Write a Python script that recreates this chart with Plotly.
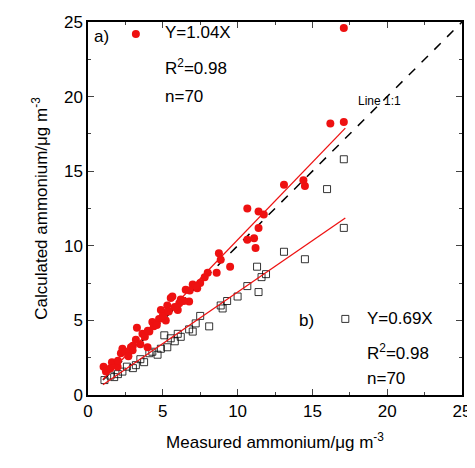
import plotly.graph_objects as go

red_x = [1.04,1.2,1.6,1.98,2.2,2.3,2.87,2.98,3.2,3.27,3.64,3.98,4.1,4.3,4.4,4.75,4.87,5.1,5.2,5.3,5.53,5.64,6.0,6.1,6.2,6.53,6.76,7.0,7.3,7.5,8.0,8.6,8.75,8.87,9.5,10.65,10.65,11.1,11.2,11.4,11.4,11.75,13.1,14.4,14.5,16.2,17.1,17.1,
         1.5,2.5,2.7,3.5,3.8,4.6,5.0,5.8,6.4,7.2,7.8,2.0,3.0,4.0,5.4,6.8]
red_y = [1.9,1.57,2.2,1.9,2.8,3.1,3.2,3.0,3.7,4.5,4.1,3.2,4.25,4.9,4.6,5.1,5.7,5.5,5.0,6.0,6.5,6.6,5.7,6.15,6.4,7.05,6.26,7.4,7.15,7.5,8.2,8.2,9.5,9.06,8.6,12.5,10.4,10.5,9.85,11.2,12.3,12.1,14.1,14.4,14.0,18.2,18.3,24.6,
         1.8,2.9,2.6,3.4,3.9,4.7,5.3,5.9,6.3,7.3,7.9,2.3,3.3,4.3,5.6,7.0]
blk_x = [1.1,1.75,2.3,2.6,3.2,3.75,4.1,4.65,4.87,5.3,5.53,5.1,6.2,6.76,7.0,7.5,8.1,8.87,9.3,10.65,11.4,11.3,11.9,13.1,14.5,15.98,17.1,17.1,
         1.5,2.0,3.0,3.5,4.3,5.8,6.0,7.2,9.0,10.0,11.6]
blk_y = [1.0,1.2,1.57,1.9,2.0,2.2,2.8,2.7,3.1,3.2,3.8,4.0,3.9,4.4,4.25,5.3,4.6,6.0,6.3,7.3,6.9,8.6,8.1,9.6,9.1,13.8,15.8,11.2,
         1.3,1.4,1.8,2.4,2.9,3.6,4.1,4.8,5.8,6.6,7.9]
fit_x = [1.0, 17.2]
slope_a, slope_b = 1.04, 0.69

fig = go.Figure()
fig.add_trace(go.Scatter(x=[1, 25], y=[1, 25], mode="lines", line=dict(color="black", dash="dash", width=1.5)))
fig.add_trace(go.Scatter(x=blk_x, y=blk_y, mode="markers",
    marker=dict(symbol="square-open", size=7, color="black", line=dict(width=0.8))))
fig.add_trace(go.Scatter(x=red_x, y=red_y, mode="markers",
    marker=dict(symbol="circle", size=8, color="#ee1111")))
fig.add_trace(go.Scatter(x=fit_x, y=[v*slope_a for v in fit_x], mode="lines", line=dict(color="#ee1111", width=1.3)))
fig.add_trace(go.Scatter(x=fit_x, y=[v*slope_b for v in fit_x], mode="lines", line=dict(color="#ee1111", width=1.3)))
# legend symbols
fig.add_trace(go.Scatter(x=[3.2], y=[24.2], mode="markers", marker=dict(symbol="circle", size=8, color="#ee1111")))
fig.add_trace(go.Scatter(x=[17.2], y=[5.1], mode="markers",
    marker=dict(symbol="square-open", size=7, color="black", line=dict(width=0.8))))

ax = dict(range=[0, 25], dtick=5, ticks="inside", ticklen=6, showgrid=False, zeroline=False,
          showline=True, linecolor="black", linewidth=1.5, mirror="ticks", automargin=False,
          minor=dict(ticks="inside", ticklen=3, dtick=2.5),
          tickfont=dict(size=17, color="black"))
fig.update_layout(
    width=475, height=468, showlegend=False, plot_bgcolor="white", paper_bgcolor="white",
    margin=dict(l=80, r=21, t=14, b=81),
    font=dict(family="Liberation Sans, Arial", color="black"),
    xaxis=dict(ax, title=dict(text="Measured ammonium/μg m<sup>-3</sup>", font=dict(size=17), standoff=16)),
    yaxis=dict(ax, title=dict(text="Calculated ammonium/μg m<sup>-3</sup>", font=dict(size=17), standoff=12)),
)
def t(x, y, s, size=17):
    fig.add_annotation(x=x, y=y, text=s, showarrow=False, xanchor="left", font=dict(size=size, color="black"))
t(0.3, 24.0, "a)")
t(5.0, 24.3, "Y=1.04X")
t(5.0, 22.0, "R<sup>2</sup>=0.98")
t(5.0, 20.0, "n=70")
t(17.9, 19.7, "Line 1:1", 12)
t(14.0, 5.0, "b)")
t(18.5, 5.1, "Y=0.69X")
t(18.5, 2.9, "R<sup>2</sup>=0.98")
t(18.5, 1.1, "n=70")
fig.write_html("out.html")
